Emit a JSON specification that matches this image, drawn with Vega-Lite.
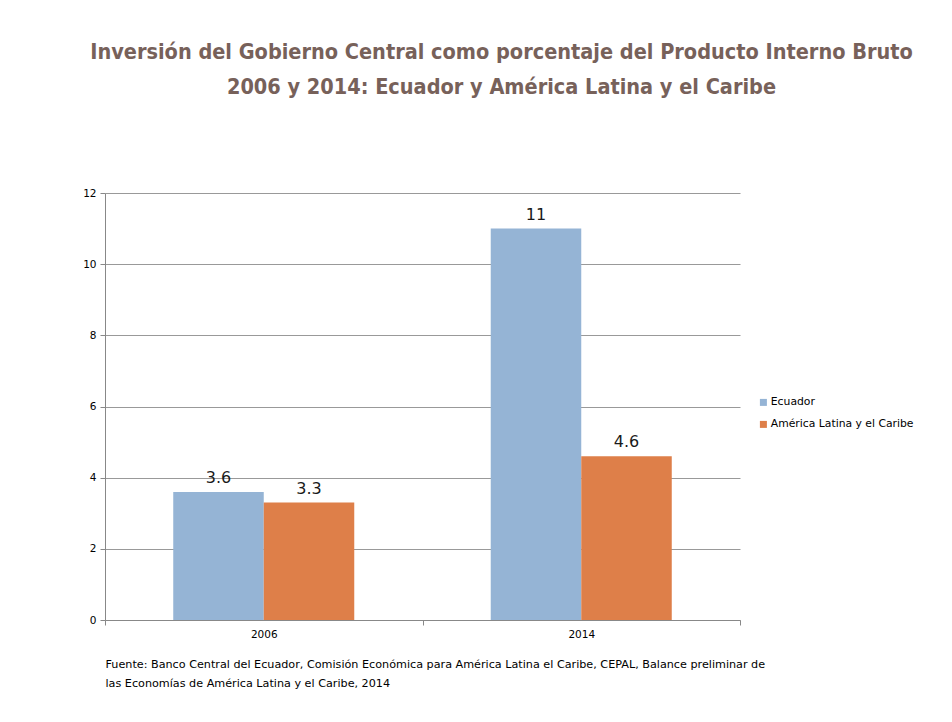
{
  "$schema": "https://vega.github.io/schema/vega-lite/v6.json",
  "width": 635,
  "height": 427,
  "autosize": {"type": "none"},
  "padding": {"left": 105, "top": 193, "right": 212, "bottom": 102},
  "background": "white",
  "title": {
    "text": ["Inversión del Gobierno Central como porcentaje del Producto Interno Bruto", "2006 y 2014: Ecuador y América Latina y el Caribe"],
    "font": "DejaVu Sans Condensed",
    "fontSize": 21.5,
    "fontWeight": "bold",
    "color": "#77615A",
    "anchor": "middle",
    "frame": "group",
    "dx": 79,
    "lineHeight": 35,
    "offset": 90
  },
  "data": {
    "values": [
      {"anio": "2006", "serie": "Ecuador", "valor": 3.6},
      {"anio": "2006", "serie": "América Latina y el Caribe", "valor": 3.3},
      {"anio": "2014", "serie": "Ecuador", "valor": 11},
      {"anio": "2014", "serie": "América Latina y el Caribe", "valor": 4.6}
    ]
  },
  "encoding": {
    "x": {
      "field": "anio",
      "type": "nominal",
      "scale": {"paddingInner": 0, "paddingOuter": 0},
      "axis": {
        "title": ["Fuente: Banco Central del Ecuador, Comisión Económica para América Latina el Caribe, CEPAL, Balance preliminar de", "las Economías de América Latina y el Caribe, 2014"],
        "titleAnchor": "start",
        "titleAlign": "left",
        "titleBaseline": "top",
        "titleY": 38,
        "titleLineHeight": 19,
        "titleFont": "DejaVu Sans",
        "titleFontSize": 11.2,
        "titleFontWeight": "normal",
        "titleColor": "#000000",
        "labelAngle": 0,
        "labelFont": "DejaVu Sans",
        "labelFontSize": 10.5,
        "labelColor": "#000000",
        "labelPadding": 4,
        "tickBand": "extent",
        "tickColor": "#888888",
        "tickSize": 5,
        "domainColor": "#888888"
      }
    },
    "xOffset": {
      "field": "serie",
      "type": "nominal",
      "sort": ["Ecuador", "América Latina y el Caribe"],
      "scale": {"paddingInner": 0, "paddingOuter": 0.754}
    },
    "y": {
      "field": "valor",
      "type": "quantitative",
      "scale": {"domain": [0, 12], "nice": false},
      "axis": {
        "title": null,
        "values": [0, 2, 4, 6, 8, 10, 12],
        "labelFont": "DejaVu Sans",
        "labelFontSize": 10.5,
        "labelColor": "#000000",
        "labelPadding": 4,
        "tickColor": "#888888",
        "tickSize": 5,
        "domainColor": "#888888",
        "gridColor": "#999999",
        "gridOpacity": 1
      }
    }
  },
  "layer": [
    {
      "mark": {"type": "bar"},
      "encoding": {
        "color": {
          "field": "serie",
          "type": "nominal",
          "scale": {"domain": ["Ecuador", "América Latina y el Caribe"], "range": ["#95B4D5", "#DE7F49"]},
          "legend": {
            "title": null,
            "orient": "none",
            "legendX": 653,
            "legendY": 204,
            "symbolType": "square",
            "symbolSize": 49,
            "symbolStrokeWidth": 0,
            "labelFont": "DejaVu Sans",
            "labelFontSize": 10.8,
            "labelColor": "#000000",
            "labelOffset": 2,
            "rowPadding": 10
          }
        }
      }
    },
    {
      "mark": {"type": "text", "baseline": "alphabetic", "dy": -9, "font": "DejaVu Sans", "fontSize": 16, "color": "#1a1a1a"},
      "encoding": {"text": {"field": "valor", "type": "quantitative"}}
    }
  ],
  "config": {"view": {"stroke": null}}
}
